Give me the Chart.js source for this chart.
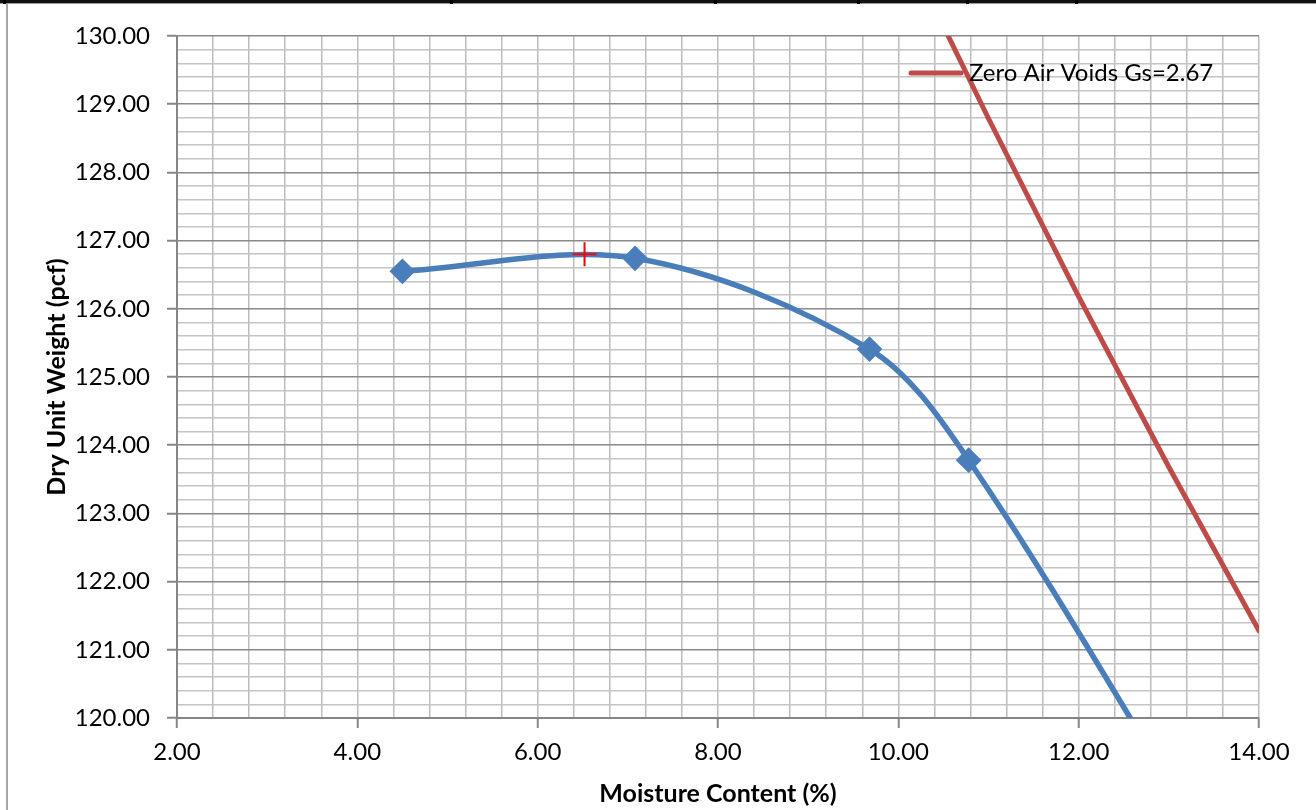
<!DOCTYPE html>
<html>
<head>
<meta charset="utf-8">
<script src="https://cdn.jsdelivr.net/npm/chart.js@4.4.1/dist/chart.umd.min.js"></script>
<style>
  html, body { margin: 0; padding: 0; background: #fff; }
  #wrap { position: relative; width: 1316px; height: 810px; overflow: hidden; }
  #grafico { position: absolute; left: 0; top: 0; }
  .bordeTop { position: absolute; left: 0; top: 0; width: 1316px; height: 3px; background: #111; border-bottom: 1px solid #999; }
  .corte { position: absolute; top: 0; width: 3px; height: 4px; background: #000; }
  .bordeIzq { position: absolute; left: 6px; top: 4px; width: 2px; height: 806px; background: #a6a6a6; }
</style>
</head>
<body>
<div id="wrap">
  <canvas id="grafico" width="1316" height="810"></canvas>
  <div class="bordeTop"></div>
  <div class="corte" style="left:3px"></div>
  <div class="corte" style="left:450px"></div>
  <div class="corte" style="left:714px"></div>
  <div class="corte" style="left:857px"></div>
  <div class="corte" style="left:966px"></div>
  <div class="corte" style="left:1075px"></div>
  <div class="bordeIzq"></div>
</div>
<script>
// --- Datos ---
// Curva de compactacion (el ultimo punto queda fuera del area, por debajo de 120)
const humedad = [4.50, 7.08, 9.68, 10.78, 13.40];
const pesoSeco = [126.55, 126.74, 125.41, 123.78, 118.20];

// Linea de cero vacios de aire (Gs = 2.67)
const humedadZAV = [10.00, 11.00, 12.00, 13.00, 14.00, 15.00];
const pesoZAV = [131.50, 128.79, 126.18, 123.68, 121.28, 118.99];

// Maximo (densidad seca maxima / humedad optima)
const maximo = [{ x: 6.52, y: 126.80 }];

const etiquetaZAV = 'Zero Air Voids Gs=2.67';
const ejeX = { min: 2, max: 14, paso: 0.4, cadaMarca: 5 };
const ejeY = { min: 120, max: 130, paso: 0.2, cadaMarca: 5 };

const fuente = 'Lato, "Open Sans", sans-serif';

// Leyenda dentro del area del grafico (solo la serie ZAV, como en el original)
const leyendaInterna = {
    id: 'leyendaInterna',
    afterDatasetsDraw(chart) {
        const ds = chart.data.datasets[1];
        const ctx = chart.ctx;
        const area = chart.chartArea;
        const x0 = area.right - 348;
        const y0 = area.top + 37;
        ctx.save();
        ctx.strokeStyle = ds.borderColor;
        ctx.lineWidth = ds.borderWidth;
        ctx.lineCap = 'round';
        ctx.beginPath();
        ctx.moveTo(x0, y0);
        ctx.lineTo(x0 + 50, y0);
        ctx.stroke();
        ctx.fillStyle = '#000';
        ctx.font = '24px ' + fuente;
        ctx.textBaseline = 'middle';
        ctx.fillText(ds.label, x0 + 58, y0);
        ctx.restore();
    }
};

const ctx = document.getElementById('grafico');

new Chart(ctx, {
    type: 'scatter',
    data: {
        datasets: [
            {
                label: 'Curva',
                data: humedad.map((w, i) => ({ x: w, y: pesoSeco[i] })),
                showLine: true,
                borderColor: '#4A7EBB',
                backgroundColor: '#4A7EBB',
                borderWidth: 5.5,
                tension: 0.33,
                pointStyle: 'rectRot',
                pointRadius: 9,
                pointHoverRadius: 9,
                order: 2
            },
            {
                label: etiquetaZAV,
                data: humedadZAV.map((w, i) => ({ x: w, y: pesoZAV[i] })),
                showLine: true,
                borderColor: '#BE4B48',
                backgroundColor: '#BE4B48',
                borderWidth: 5,
                borderCapStyle: 'round',
                tension: 0,
                pointRadius: 0,
                order: 3
            },
            {
                label: 'Maximo',
                data: maximo,
                showLine: false,
                pointStyle: 'cross',
                pointRadius: 12,
                borderColor: '#FF0000',
                borderWidth: 2,
                order: 1
            }
        ]
    },
    options: {
        responsive: false,
        animation: false,
        events: [],
        layout: {
            padding: { left: 0, top: 36, right: 57, bottom: 0 }
        },
        plugins: {
            legend: { display: false },
            tooltip: { enabled: false }
        },
        scales: {
            x: {
                type: 'linear',
                min: ejeX.min,
                max: ejeX.max,
                afterFit: (s) => { s.height = 92; },
                afterBuildTicks: (s) => {
                    s.ticks = [];
                    for (let i = 0; i <= 30; i++) s.ticks.push({ value: +(ejeX.min + i * ejeX.paso).toFixed(2) });
                },
                border: { display: true, color: '#868686', width: 2 },
                grid: {
                    color: '#bcbcbc',
                    lineWidth: 1.5,
                    tickLength: 10,
                    tickColor: (c) => (c.index % ejeX.cadaMarca === 0 ? '#868686' : 'rgba(0,0,0,0)'),
                    tickWidth: 2
                },
                ticks: {
                    autoSkip: false,
                    maxRotation: 0,
                    padding: 10,
                    color: '#000',
                    font: { family: fuente, size: 24 },
                    callback: (v, i) => (i % ejeX.cadaMarca === 0 ? v.toFixed(2) : '')
                },
                title: {
                    display: true,
                    text: 'Moisture Content (%)',
                    color: '#000',
                    font: { family: fuente, size: 25, weight: 'bold' },
                    padding: { top: 0, bottom: 1 }
                }
            },
            y: {
                type: 'linear',
                min: ejeY.min,
                max: ejeY.max,
                afterFit: (s) => { s.width = 177; },
                afterBuildTicks: (s) => {
                    s.ticks = [];
                    for (let i = 0; i <= 50; i++) s.ticks.push({ value: +(ejeY.min + i * ejeY.paso).toFixed(2) });
                },
                border: { display: true, color: '#868686', width: 2 },
                grid: {
                    color: (c) => (c.index % ejeY.cadaMarca === 0 ? '#8a8a8a' : '#c4c4c4'),
                    lineWidth: 1.5,
                    tickLength: 10,
                    tickColor: (c) => (c.index % ejeY.cadaMarca === 0 ? '#868686' : 'rgba(0,0,0,0)'),
                    tickWidth: 2
                },
                ticks: {
                    autoSkip: false,
                    padding: 17,
                    color: '#000',
                    font: { family: fuente, size: 24 },
                    callback: (v, i) => (i % ejeY.cadaMarca === 0 ? v.toFixed(2) : '')
                },
                title: {
                    display: true,
                    text: 'Dry Unit Weight (pcf)',
                    color: '#000',
                    font: { family: fuente, size: 25, weight: 'bold' },
                    padding: { top: 42, bottom: 0 }
                }
            }
        }
    },
    plugins: [leyendaInterna]
});
</script>
</body>
</html>
